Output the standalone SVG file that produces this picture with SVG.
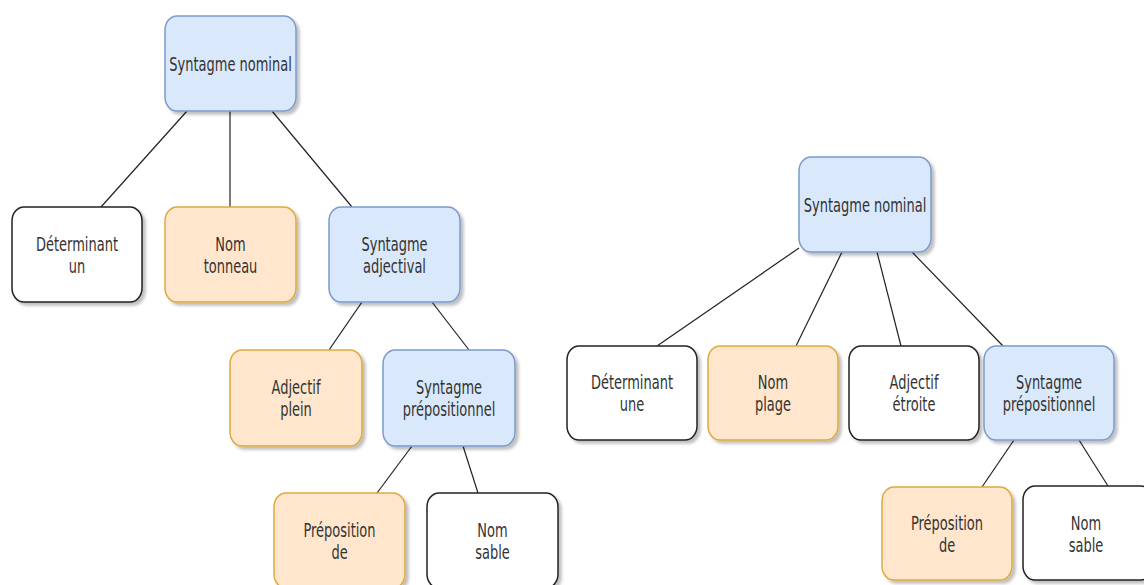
<svg xmlns="http://www.w3.org/2000/svg" width="1144" height="585" viewBox="0 0 1144 585">
<defs>
<filter id="sh" x="-10%" y="-10%" width="130%" height="130%">
<feDropShadow dx="3" dy="3" stdDeviation="1.5" flood-color="#000" flood-opacity="0.25"/>
</filter>
<style>
.box{stroke-width:1.5;filter:url(#sh)}
.blue{fill:#dae8fc;stroke:#7b9bcc}
.orange{fill:#ffe6cc;stroke:#deaa3c}
.white{fill:#ffffff;stroke:#222222}
.lbl{font-family:"DejaVu Sans","Verdana",sans-serif;font-size:13px;fill:#333333;text-anchor:middle}
.edge{stroke:#222222;stroke-width:1.2;fill:none}
</style>
</defs>
<rect width="1144" height="585" fill="#ffffff"/>
<g id="connectors">
<line class="edge" x1="187" y1="111" x2="101" y2="207"/>
<line class="edge" x1="230" y1="111" x2="230" y2="207"/>
<line class="edge" x1="272" y1="111" x2="352" y2="207"/>
<line class="edge" x1="362" y1="302" x2="329" y2="350"/>
<line class="edge" x1="432" y1="302" x2="469" y2="350"/>
<line class="edge" x1="412" y1="446" x2="377" y2="493"/>
<line class="edge" x1="463" y1="446" x2="478" y2="493"/>
<line class="edge" x1="799" y1="248" x2="657" y2="346"/>
<line class="edge" x1="842" y1="252" x2="796" y2="346"/>
<line class="edge" x1="877" y1="252" x2="901" y2="346"/>
<line class="edge" x1="912" y1="252" x2="1003" y2="346"/>
<line class="edge" x1="1014" y1="440" x2="982" y2="487"/>
<line class="edge" x1="1079" y1="440" x2="1108" y2="486"/>
</g>
<g id="l-sn">
<rect class="box blue" x="165" y="16" width="131" height="95" rx="12" ry="14"/>
<text class="lbl" transform="matrix(1,0,0,1.5,230.5,70.5)">Syntagme nominal</text>
</g>
<g id="l-det">
<rect class="box white" x="12" y="207" width="130" height="95" rx="12" ry="14"/>
<text class="lbl" transform="matrix(1,0,0,1.5,77,250.5)">Déterminant</text>
<text class="lbl" transform="matrix(1,0,0,1.5,77,272.5)">un</text>
</g>
<g id="l-nom">
<rect class="box orange" x="165" y="207" width="131" height="95" rx="12" ry="14"/>
<text class="lbl" transform="matrix(1,0,0,1.5,230.5,250.5)">Nom</text>
<text class="lbl" transform="matrix(1,0,0,1.5,230.5,272.5)">tonneau</text>
</g>
<g id="l-sadj">
<rect class="box blue" x="329" y="207" width="131" height="95" rx="12" ry="14"/>
<text class="lbl" transform="matrix(1,0,0,1.5,394.5,250.5)">Syntagme</text>
<text class="lbl" transform="matrix(1,0,0,1.5,394.5,272.5)">adjectival</text>
</g>
<g id="l-adj">
<rect class="box orange" x="230" y="350" width="132" height="96" rx="12" ry="14"/>
<text class="lbl" transform="matrix(1,0,0,1.5,296,394)">Adjectif</text>
<text class="lbl" transform="matrix(1,0,0,1.5,296,416)">plein</text>
</g>
<g id="l-sp">
<rect class="box blue" x="383" y="350" width="132" height="96" rx="12" ry="14"/>
<text class="lbl" transform="matrix(1,0,0,1.5,449,394)">Syntagme</text>
<text class="lbl" transform="matrix(1,0,0,1.5,449,416)">prépositionnel</text>
</g>
<g id="l-prep">
<rect class="box orange" x="274" y="493" width="131" height="95" rx="12" ry="14"/>
<text class="lbl" transform="matrix(1,0,0,1.5,339.5,536.5)">Préposition</text>
<text class="lbl" transform="matrix(1,0,0,1.5,339.5,558.5)">de</text>
</g>
<g id="l-nomsable">
<rect class="box white" x="427" y="493" width="131" height="95" rx="12" ry="14"/>
<text class="lbl" transform="matrix(1,0,0,1.5,492.5,536.5)">Nom</text>
<text class="lbl" transform="matrix(1,0,0,1.5,492.5,558.5)">sable</text>
</g>
<g id="r-sn">
<rect class="box blue" x="799" y="157" width="132" height="95" rx="12" ry="14"/>
<text class="lbl" transform="matrix(1,0,0,1.5,865,211.5)">Syntagme nominal</text>
</g>
<g id="r-det">
<rect class="box white" x="567" y="346" width="130" height="94" rx="12" ry="14"/>
<text class="lbl" transform="matrix(1,0,0,1.5,632,389)">Déterminant</text>
<text class="lbl" transform="matrix(1,0,0,1.5,632,411)">une</text>
</g>
<g id="r-nom">
<rect class="box orange" x="708" y="346" width="130" height="94" rx="12" ry="14"/>
<text class="lbl" transform="matrix(1,0,0,1.5,773,389)">Nom</text>
<text class="lbl" transform="matrix(1,0,0,1.5,773,411)">plage</text>
</g>
<g id="r-adj">
<rect class="box white" x="849" y="346" width="130" height="94" rx="12" ry="14"/>
<text class="lbl" transform="matrix(1,0,0,1.5,914,389)">Adjectif</text>
<text class="lbl" transform="matrix(1,0,0,1.5,914,411)">étroite</text>
</g>
<g id="r-sp">
<rect class="box blue" x="984" y="346" width="130" height="94" rx="12" ry="14"/>
<text class="lbl" transform="matrix(1,0,0,1.5,1049,389)">Syntagme</text>
<text class="lbl" transform="matrix(1,0,0,1.5,1049,411)">prépositionnel</text>
</g>
<g id="r-prep">
<rect class="box orange" x="882" y="487" width="130" height="93" rx="12" ry="14"/>
<text class="lbl" transform="matrix(1,0,0,1.5,947,530)">Préposition</text>
<text class="lbl" transform="matrix(1,0,0,1.5,947,552)">de</text>
</g>
<g id="r-nomsable">
<rect class="box white" x="1023" y="486" width="130" height="94" rx="12" ry="14"/>
<text class="lbl" transform="matrix(1,0,0,1.5,1086,530)">Nom</text>
<text class="lbl" transform="matrix(1,0,0,1.5,1086,552)">sable</text>
</g>
</svg>
